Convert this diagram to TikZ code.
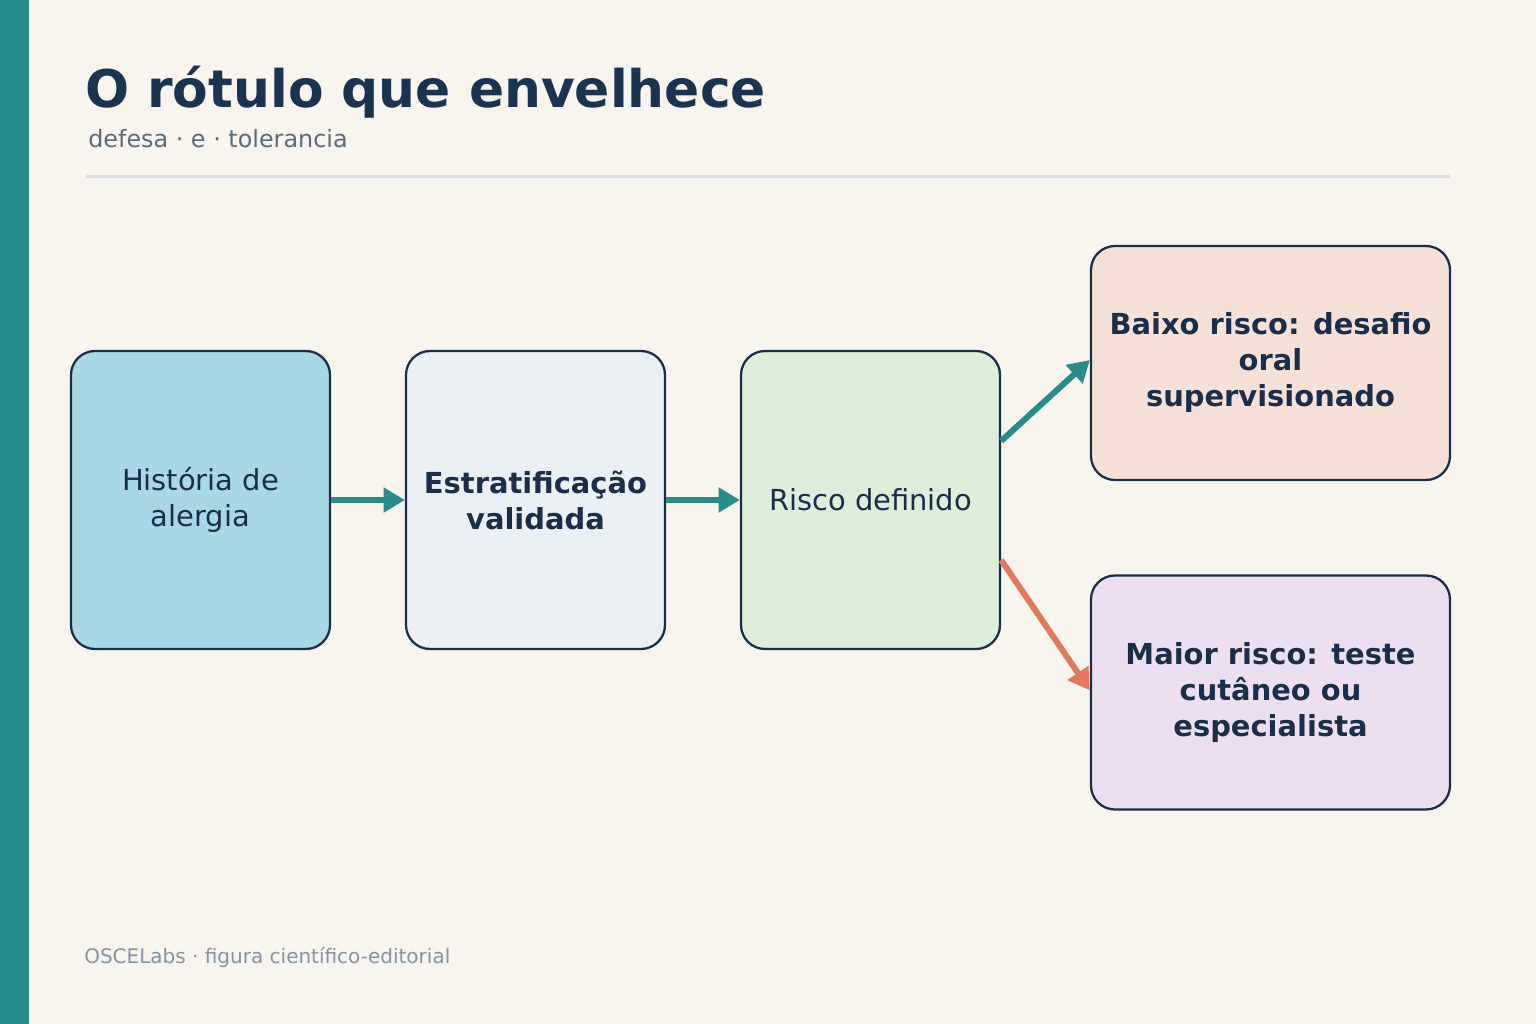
\documentclass[tikz,border=0pt]{standalone}
\usepackage{fontspec}
\setmainfont{DejaVu Sans}
\usetikzlibrary{arrows.meta,calc}
\definecolor{bgc}{HTML}{F8F4EE}
\definecolor{teal}{HTML}{2A8C8A}
\definecolor{navy}{HTML}{1A2E4A}
\definecolor{titlec}{HTML}{1A3350}
\definecolor{subc}{HTML}{5C6B7A}
\definecolor{footc}{HTML}{8494A2}
\definecolor{rulec}{HTML}{D5DEE2}
\definecolor{fillA}{HTML}{A8D8E6}
\definecolor{fillB}{HTML}{EBF0F4}
\definecolor{fillC}{HTML}{DDEEDA}
\definecolor{fillD}{HTML}{F5E1D8}
\definecolor{fillE}{HTML}{ECDFEF}
\definecolor{orangec}{HTML}{E07A5F}
\tikzset{
  box/.style={draw=navy, line width=1.7pt, rounded corners=18pt, inner sep=0pt,
    minimum width=194.25pt, minimum height=223.5pt, align=center,
    text=navy, font=\fontsize{21.7}{27}\selectfont},
  bigbox/.style={box, minimum width=269.25pt, minimum height=175.5pt, font=\fontsize{21.7}{27}\selectfont\bfseries},
  flow/.style={line width=4.5pt, draw=teal, -{Triangle[length=16pt,width=18pt]}},
  flowo/.style={line width=4.5pt, draw=orangec, -{Triangle[length=16pt,width=18pt]}},
}
\begin{document}
\begin{tikzpicture}[x=0.75pt,y=-0.75pt]
\fill[bgc] (0,0) rectangle (1536,1024);
\useasboundingbox (0,0) rectangle (1536,1024);
\fill[teal] (0,0) rectangle (29,1024);
\node[anchor=base west, inner sep=0pt, text=titlec, font=\fontsize{38.9}{42}\selectfont\bfseries] (title) at (85,108) {O rótulo que envelhece};
\node[anchor=base west, inner sep=0pt, text=subc, font=\fontsize{17.9}{21}\selectfont] (sub) at (88,147.5) {defesa · e · tolerancia};
\draw[rulec, line width=2.25pt] (86,176) -- (1450,176);
\node[box, fill=fillA] (b1) at (200.5,500) {História de\\alergia};
\node[box, fill=fillB, font=\fontsize{21.7}{27}\selectfont\bfseries] (b2) at (535.5,500) {Estratificação\\validada};
\node[box, fill=fillC] (b3) at (870.5,500) {Risco definido};
\node[bigbox, fill=fillD] (b4) at (1270.5,363) {Baixo risco: desafio\\oral\\supervisionado};
\node[bigbox, fill=fillE] (b5) at (1270.5,692.5) {Maior risco: teste\\cutâneo ou\\especialista};
\coordinate (s4) at ($(b3.east)+(0,-59)$);
\coordinate (e4) at ($(b4.west)+(0,-3)$);
\coordinate (s5) at ($(b3.east)+(0,60)$);
\coordinate (e5) at ($(b5.west)+(0,-2)$);
\draw[flow] (b1.east) -- (b2.west);
\draw[flow] (b2.east) -- (b3.west);
\draw[flow] (s4) -- (e4);
\draw[flowo] (s5) -- (e5);
\node[anchor=base west, inner sep=0pt, text=footc, font=\fontsize{15}{18}\selectfont] (foot) at (84,963) {OSCELabs · figura científico-editorial};
\end{tikzpicture}
\end{document}
